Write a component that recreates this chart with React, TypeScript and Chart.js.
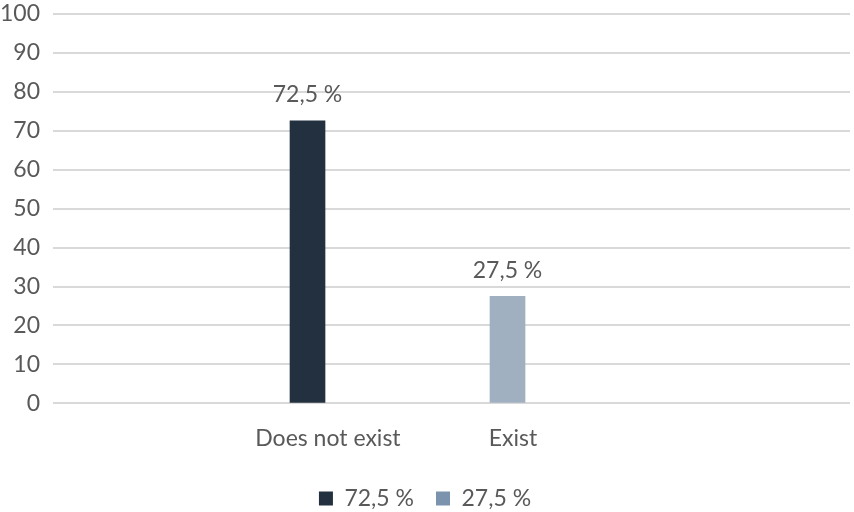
import React, { useEffect, useRef } from "react";
import { Chart, registerables } from "chart.js";

Chart.register(...registerables);

const categories = ["Does not exist", "Exist"];
const seriesNames = ["72,5 %", "27,5 %"];
const seriesValues: (number | null)[][] = [
  [72.5, null],
  [null, 27.5],
];
const barColors = ["#22303f", "#a1b0c1"];
const legendColors = ["#22303f", "#7b93ad"];
const yMin = 0;
const yMax = 100;
const yStep = 10;

const FONT = "Lato, 'Open Sans', sans-serif";
const TEXT = "#595959";
const FS = 23;

const fmt = (v: number) => v.toFixed(1).replace(".", ",") + " %";

const valueLabels = {
  id: "valueLabels",
  afterDatasetsDraw(chart: any) {
    const ctx = chart.ctx;
    ctx.save();
    ctx.font = `${FS}px ${FONT}`;
    ctx.fillStyle = TEXT;
    ctx.textAlign = "center";
    ctx.textBaseline = "middle";
    chart.data.datasets.forEach((ds: any, di: number) => {
      const meta = chart.getDatasetMeta(di);
      meta.data.forEach((el: any, i: number) => {
        const raw = ds.data[i];
        if (!raw || raw.y == null) return;
        ctx.fillText(fmt(raw.y), el.x, el.y - 26);
      });
    });
    ctx.restore();
  },
};

export default function App() {
  const ref = useRef<HTMLCanvasElement | null>(null);

  useEffect(() => {
    document.body.style.margin = "0";
    if (!ref.current) return;
    const datasets = seriesNames.map((name, si) => ({
      label: name,
      data: seriesValues[si]
        .map((v, i) => (v == null ? null : { x: i, y: v }))
        .filter((p) => p !== null),
      backgroundColor: barColors[si],
      borderWidth: 0,
      barThickness: 35,
      grouped: false,
      xAxisID: "xb",
    }));
    const chart = new Chart(ref.current, {
      type: "bar",
      data: { datasets: datasets as any },
      plugins: [valueLabels],
      options: {
        animation: false,
        responsive: false,
        maintainAspectRatio: false,
        layout: { padding: { top: 0, right: 4, left: 0, bottom: -8 } },
        plugins: {
          tooltip: { enabled: false },
          legend: {
            position: "bottom",
            labels: {
              boxWidth: 14,
              boxHeight: 14,
              padding: 22,
              color: TEXT,
              font: { family: FONT, size: FS },
              generateLabels: () =>
                seriesNames.map((n, i) => ({
                  text: n,
                  fillStyle: legendColors[i],
                  strokeStyle: legendColors[i],
                  lineWidth: 0,
                  hidden: false,
                  datasetIndex: i,
                  fontColor: TEXT,
                })),
            },
          },
        },
        scales: {
          x: {
            type: "linear",
            position: "bottom",
            offset: false,
            bounds: "data",
            min: -1.486,
            max: 2.822,
            grid: { display: false, offset: false },
            border: { display: false },
            afterBuildTicks: (axis: any) => {
              axis.ticks = categories.map((_, i) => ({ value: i }));
            },
            ticks: {
              padding: 13,
              color: TEXT,
              font: { family: FONT, size: FS },
              autoSkip: false,
              maxRotation: 0,
              callback: (v: any) => categories[Math.round(Number(v))] ?? "",
            },
          },
          xb: {
            type: "linear",
            display: false,
            offset: false,
            bounds: "data",
            grid: { offset: false },
            min: -1.2725,
            max: 2.7125,
          },
          y: {
            min: yMin,
            max: yMax,
            border: { display: false },
            grid: {
              color: "#d9d9d9",
              lineWidth: 2,
              drawTicks: true,
              tickLength: 13,
              tickColor: "rgba(0,0,0,0)",
            },
            ticks: {
              stepSize: yStep,
              padding: 0,
              color: TEXT,
              font: { family: FONT, size: FS },
            },
          },
        },
      } as any,
    });
    return () => chart.destroy();
  }, []);

  return (
    <div style={{ position: "fixed", left: 0, top: 0, width: 854, height: 512, background: "#fff" }}>
      <canvas ref={ref} width={854} height={512} style={{ width: 854, height: 512 }} />
    </div>
  );
}
